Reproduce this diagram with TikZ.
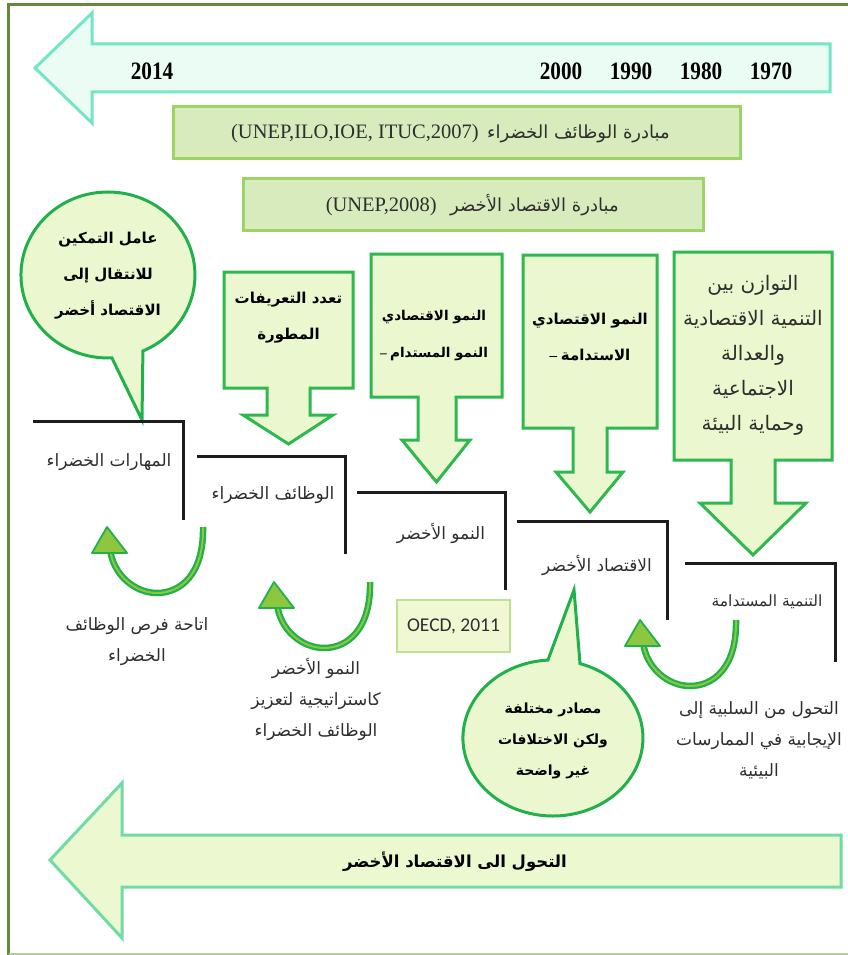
\documentclass[tikz,border=0pt]{standalone}
\usepackage{fontspec}
\setmainfont{Liberation Serif}
\newfontfamily\arabicfont[Script=Arabic]{DejaVu Sans}
\newfontfamily\yearfont[FakeStretch=0.85]{Liberation Serif}
\newfontfamily\oecdfont{Carlito}
\TeXXeTstate=1
\newcommand\artxt[1]{{\arabicfont\beginR #1\endR}}
\definecolor{framegreen}{HTML}{5F8B3B}
\definecolor{framelight}{HTML}{B3CE9E}
\definecolor{topstroke}{HTML}{74E5C5}
\definecolor{topfill}{HTML}{EAFCF4}
\definecolor{botstroke}{HTML}{70DBA5}
\definecolor{botfill}{HTML}{ECF8CF}
\definecolor{boxfill}{HTML}{D8EBBC}
\definecolor{boxstroke}{HTML}{9ED466}
\definecolor{bagreen}{HTML}{2EB84E}
\definecolor{bafill}{HTML}{EBF8CF}
\definecolor{bubgreen}{HTML}{22B04C}
\definecolor{arrowdark}{HTML}{21B14B}
\definecolor{arrowlight}{HTML}{8DC63F}
\definecolor{oecdfill}{HTML}{EFF8D2}
\definecolor{oecdstroke}{HTML}{BDE190}
\definecolor{stepblack}{HTML}{1C1C1C}
\definecolor{textgrey}{HTML}{2E2E2E}
\tikzset{
  bigarrowtop/.style={draw=topstroke, fill=topfill, line width=3pt, line join=miter},
  bigarrowbot/.style={draw=botstroke, fill=botfill, line width=3pt, line join=miter},
  initbox/.style={draw=boxstroke, fill=boxfill, line width=3pt, inner sep=0pt},
  latinpart/.style={font=\fontsize{20.5}{22}\selectfont, text=textgrey, inner sep=0pt},
  arabicpart/.style={font=\fontsize{18}{20}\selectfont, text=textgrey, inner sep=0pt},
  oecdbox/.style={draw=oecdstroke, fill=oecdfill, line width=2.5pt, inner sep=0pt, font=\oecdfont\fontsize{19.5}{21}\selectfont, text=textgrey},
  blockarrow/.style={draw=bagreen, fill=bafill, line width=3pt, line join=miter},
  bubble/.style={draw=bubgreen, fill=bafill, line width=3pt, line join=miter},
  stepline/.style={draw=stepblack, line width=3pt, line join=miter},
  yearlabel/.style={font=\yearfont\bfseries\fontsize{25}{27}\selectfont, text=black},
  steplabel/.style={font=\fontsize{17}{20}\selectfont, text=textgrey, inner sep=0pt},
  notelabel/.style={font=\fontsize{17}{31}\selectfont, text=textgrey, align=center, inner sep=0pt},
  boldlabel/.style={font=\bfseries\fontsize{15}{36}\selectfont, text=black, align=center, inner sep=0pt},
  curvarrow/.pic={
    \path[draw=arrowdark, line width=6.5pt] (96,0) .. controls (97,48) and (73,66) .. (50,66) .. controls (28,66) and (6,48) .. (3,22);
    \path[draw=arrowlight, line width=2pt] (96,0) .. controls (97,48) and (73,66) .. (50,66) .. controls (28,66) and (6,48) .. (3,22);
    \filldraw[fill=arrowlight, draw=arrowdark, line width=1.8pt, line join=round] (0,0) -- (-15,26) -- (20,26) -- cycle;
  }
}
\begin{document}
\begin{tikzpicture}[x=1pt,y=-1pt]
\useasboundingbox (0,0) rectangle (847,955);
\fill[white] (0,0) rectangle (847,955);
% frame
\draw[framegreen, line width=3pt] (8.5,960) -- (8.5,4.5) -- (850,4.5);
\draw[framelight, line width=2pt] (8.5,953.5) -- (850,953.5);
% top timeline arrow
\draw[bigarrowtop] (35,68) -- (92,13) -- (92,44) -- (830,44) -- (830,92) -- (92,92) -- (92,123) -- cycle;
\node[yearlabel] (y2014) at (152,71) {2014};
\node[yearlabel] (y2000) at (561,71) {2000};
\node[yearlabel] (y1990) at (631,71) {1990};
\node[yearlabel] (y1980) at (701,71) {1980};
\node[yearlabel] (y1970) at (771,71) {1970};
% initiative boxes
\node[initbox, minimum width=567pt, minimum height=51pt] (box1) at (456.5,132.5) {};
\node[latinpart, anchor=base east] (box1lat) at (479,139) {(UNEP,ILO,IOE, ITUC,2007)};
\node[arabicpart, anchor=base west] (box1ar) at (487,139) {\artxt{مبادرة الوظائف الخضراء}};
\node[initbox, minimum width=460pt, minimum height=52pt] (box2) at (473,204) {};
\node[latinpart, anchor=base east] (box2lat) at (437,211) {(UNEP,2008)};
\node[arabicpart, anchor=base west] (box2ar) at (450,211) {\artxt{مبادرة الاقتصاد الأخضر}};
% bubble 1
\draw[bubble] (142,420) -- (111.9,357.9) arc[start angle=87.4, end angle=426.3, x radius=87, y radius=83] -- cycle;
\node[boldlabel] (bub1) at (108,276) {\artxt{عامل التمكين}\\\artxt{للانتقال إلى}\\\artxt{الاقتصاد أخضر}};
% block arrows
\draw[blockarrow] (224,272) -- (353,272) -- (353,388) -- (310,388) -- (310,415) -- (333,415) -- (288.5,444) -- (243,415) -- (267,415) -- (267,388) -- (224,388) -- cycle;
\node[boldlabel] (bA) at (288.5,318) {\artxt{تعدد التعريفات}\\\artxt{المطورة}};
\draw[blockarrow] (371,254) -- (502,254) -- (502,397) -- (456,397) -- (456,440) -- (470,440) -- (436.5,482) -- (402,440) -- (418,440) -- (418,397) -- (371,397) -- cycle;
\node[boldlabel, font=\bfseries\fontsize{13.5}{37}\selectfont] (bB) at (434,336) {\artxt{النمو الاقتصادي}\\–\ \artxt{النمو المستدام}};
\draw[blockarrow] (523,255) -- (657,255) -- (657,428) -- (607,428) -- (607,472) -- (623,472) -- (590,512) -- (556,472) -- (573,472) -- (573,428) -- (523,428) -- cycle;
\node[boldlabel] (bC) at (590,337) {\artxt{النمو الاقتصادي}\\–\ \artxt{الاستدامة}};
\draw[blockarrow] (674,252) -- (832,252) -- (832,460) -- (775,460) -- (775,503) -- (806,503) -- (753,555) -- (700,503) -- (731,503) -- (731,460) -- (674,460) -- cycle;
\node[font=\fontsize{20}{35}\selectfont, text=textgrey, align=center, inner sep=0pt] (bD) at (753,355)
  {\artxt{التوازن بين}\\\artxt{التنمية الاقتصادية}\\\artxt{والعدالة}\\\artxt{الاجتماعية}\\\artxt{وحماية البيئة}};
% steps
\draw[stepline] (33,421) -- (183,421) -- (183,520);
\draw[stepline] (197,456) -- (345,456) -- (345,554);
\draw[stepline] (357,492) -- (505,492) -- (505,590);
\draw[stepline] (517,521) -- (667,521) -- (667,620);
\draw[stepline] (685,563) -- (835,563) -- (835,662);
\node[steplabel] (s1) at (109,462) {\artxt{المهارات الخضراء}};
\node[steplabel] (s2) at (273,495) {\artxt{الوظائف الخضراء}};
\node[steplabel] (s3) at (441,533) {\artxt{النمو الأخضر}};
\node[steplabel] (s4) at (597,565) {\artxt{الاقتصاد الأخضر}};
\node[steplabel, font=\fontsize{15.5}{20}\selectfont] (s5) at (767,602) {\artxt{التنمية المستدامة}};
% OECD
\node[oecdbox, minimum width=113pt, minimum height=52pt] (oecd) at (453.5,626) {OECD, 2011};
% curved arrows
\pic at (107,527) {curvarrow};
\pic at (274,582) {curvarrow};
\pic at (640,620) {curvarrow};
% notes
\node[notelabel] (n1) at (137,642) {\artxt{اتاحة فرص الوظائف}\\\artxt{الخضراء}};
\node[notelabel] (n2) at (316,699) {\artxt{النمو الأخضر}\\\artxt{كاستراتيجية لتعزيز}\\\artxt{الوظائف الخضراء}};
\node[notelabel] (n3) at (759,740) {\artxt{التحول من السلبية إلى}\\\artxt{الإيجابية في الممارسات}\\\artxt{البيئية}};
% bubble 2
\draw[bubble] (574,590) -- (580,663.6) arc[start angle=-72.5, end angle=266.8, x radius=90, y radius=78] -- cycle;
\node[font=\bfseries\fontsize{14}{31}\selectfont, text=black, align=center, inner sep=0pt] (bub2) at (553,741)
  {\artxt{مصادر مختلفة}\\\artxt{ولكن الاختلافات}\\\artxt{غير واضحة}};
% bottom arrow
\draw[bigarrowbot] (50,860) -- (122,783) -- (122,835) -- (841,835) -- (841,887) -- (122,887) -- (122,938) -- cycle;
\node[font=\bfseries\fontsize{16.5}{20}\selectfont, text=black, inner sep=0pt] (bottomtext) at (455,862) {\artxt{التحول الى الاقتصاد الأخضر}};
\end{tikzpicture}
\end{document}
